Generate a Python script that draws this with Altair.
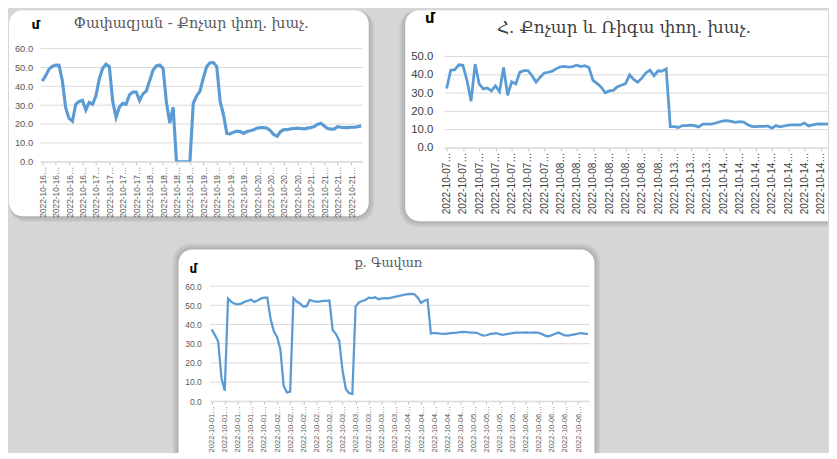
import json
import altair as alt
import pandas as pd

# ---------------- data ----------------
unit = "մ"
titles = ["Փափազյան - Քոչար փող. խաչ.", "Հ. Քոչար և Ռիգա փող. խաչ.", "ք. Գավառ"]

labels1 = (["2022-10-16…"] * 4 + ["2022-10-17…"] * 4 + ["2022-10-18…"] * 4 +
           ["2022-10-19…"] * 4 + ["2022-10-20…"] * 4 + ["2022-10-21…"] * 4)
labels2 = (["2022-10-07…"] * 7 + ["2022-10-08…"] * 7 + ["2022-10-13…"] * 3 +
           ["2022-10-14…"] * 7)
labels3 = (["2022-10-01…"] * 5 + ["2022-10-02…"] * 5 + ["2022-10-03…"] * 5 +
           ["2022-10-04…"] * 5 + ["2022-10-05…"] * 4 + ["2022-10-06…"] * 5)

yticks1 = [0, 10, 20, 30, 40, 50, 60]
yticks2 = [0, 10, 20, 30, 40, 50]
yticks3 = [0, 10, 20, 30, 40, 50, 60]

values1 = [42.8, 45.5, 49.0, 50.6, 51.3, 51.2, 43.0, 28.5, 23.0, 21.5, 30.5, 32.0,
           32.5, 27.5, 31.5, 30.5, 35.0, 44.0, 49.5, 51.8, 50.5, 32.0, 23.5, 29.0,
           31.0, 30.5, 35.5, 37.0, 37.0, 32.5, 36.0, 37.5, 43.0, 48.5, 50.8, 51.3,
           49.5, 31.5, 20.5, 29.0, 0.0, 0.0, 0.0, 0.0, 0.0, 31.0, 35.0, 37.5,
           44.5, 50.5, 52.5, 52.6, 50.5, 32.0, 25.0, 15.0, 14.8, 15.7, 16.2, 16.0,
           15.0, 16.0, 16.4, 17.0, 17.8, 18.1, 18.1, 17.8, 16.4, 14.3, 13.5, 16.0,
           17.0, 17.0, 17.4, 17.6, 17.8, 17.6, 17.4, 17.8, 18.1, 18.6, 19.8, 20.4,
           19.0, 17.6, 17.3, 17.4, 18.6, 18.3, 18.1, 18.1, 18.3, 18.3, 18.6, 19.0]

values2 = [32.5, 42.5, 42.8, 45.5, 45.2, 37.0, 25.5, 45.9, 35.0, 32.3, 32.8, 31.2,
           34.0, 30.8, 44.0, 28.8, 36.2, 35.0, 41.5, 42.3, 42.3, 39.5, 36.0, 38.7,
           41.0, 41.4, 42.0, 43.4, 44.4, 44.6, 44.2, 44.5, 45.3, 44.5, 45.0, 44.0,
           37.0, 35.3, 33.3, 30.2, 31.2, 31.5, 33.5, 34.3, 35.2, 40.0, 37.5, 36.0,
           38.2, 41.0, 42.6, 39.5, 42.2, 42.0, 43.3, 11.7, 11.7, 11.2, 12.2, 12.2,
           12.5, 12.2, 11.5, 13.0, 13.0, 13.0, 13.5, 14.2, 14.8, 14.9, 14.5, 14.0,
           14.4, 14.1, 12.8, 11.8, 11.7, 11.8, 11.8, 12.0, 10.8, 12.2, 11.5, 12.0,
           12.5, 12.6, 12.6, 12.6, 13.6, 12.0, 12.6, 13.0, 13.2, 13.0, 13.1, 13.0]

values3 = [37.5, 34.5, 31.0, 12.0, 5.5, 53.5, 51.8, 50.9, 50.5, 50.9, 51.8, 52.3,
           53.0, 51.8, 52.5, 53.5, 54.0, 54.0, 43.0, 36.5, 33.5, 27.0, 8.0, 4.6,
           5.0, 53.8, 52.0, 51.0, 49.4, 49.5, 52.8, 52.2, 52.0, 51.9, 52.3, 52.3,
           52.5, 37.0, 35.0, 31.5, 16.0, 6.5, 4.2, 3.8, 49.5, 51.5, 52.3, 52.8,
           54.0, 53.8, 54.2, 53.2, 53.6, 53.8, 53.6, 54.0, 54.4, 54.8, 55.2, 55.6,
           55.8, 56.0, 55.8, 54.0, 51.3, 52.4, 53.0, 35.3, 35.6, 35.4, 35.2, 35.1,
           35.3, 35.5, 35.7, 35.8, 36.0, 36.2, 36.0, 35.8, 35.8, 35.7, 34.9, 34.2,
           34.4, 35.0, 35.3, 35.5, 35.0, 34.6, 35.0, 35.2, 35.5, 35.8, 35.8, 35.8,
           35.9, 35.8, 35.8, 35.9, 35.7, 35.0, 34.1, 33.9, 34.5, 35.2, 35.8, 35.1,
           34.3, 34.2, 34.6, 34.9, 35.2, 35.5, 35.2, 35.0]

BG = "#d6d6d6"
LINE = "#5B9BD5"
GRID = "#d9d9d9"
NSH = 4


def panel(values, labels, yticks, ytop, title, step, width, height, xmax, card, shadow,
          corners, lab, ttl, unit_pos):
    df = pd.DataFrame({"i": list(range(len(values))), "v": values})
    gdf = pd.DataFrame({"v": yticks})
    one = pd.DataFrame({"t": [title]})
    uni = pd.DataFrame({"t": [unit]})
    xscale = alt.Scale(domain=[-0.5, xmax], nice=False, zero=False)
    yscale = alt.Scale(domain=[0, ytop], nice=False, zero=True)
    yaxis = alt.Axis(values=yticks, format=".1f", domain=False, grid=False,
                     ticks=False, labelColor=lab["color"],
                     labelFont="Liberation Sans", labelFontSize=lab["ysize"],
                     labelPadding=lab["ypad"], title=None, zindex=1)
    layers = []
    x0, x1, y0, y1 = card
    eL, eT, eR, eB = shadow
    for k in range(NSH, 0, -1):
        f = k / float(NSH)
        layers.append(alt.Chart(one).mark_rect(
            color="#000000", opacity=0.045, **{kk: vv + 4 * f for kk, vv in corners.items()}
        ).encode(x=alt.value(x0 - eL * f), x2=alt.value(x1 + eR * f),
                 y=alt.value(y0 - eT * f), y2=alt.value(y1 + eB * f)))
    layers.append(alt.Chart(one).mark_rect(color="white", **corners).encode(
        x=alt.value(x0), x2=alt.value(x1), y=alt.value(y0), y2=alt.value(y1)))

    # horizontal gridlines from the value scale
    layers.append(alt.Chart(gdf).mark_rule(color=GRID, strokeWidth=1).encode(
        y=alt.Y("v:Q", scale=yscale, axis=yaxis),
        x=alt.value(0), x2=alt.value(width)))

    expr = "%s[round(datum.value/%d)]" % (json.dumps(labels, ensure_ascii=False), step)
    xaxis = alt.Axis(values=list(range(0, len(labels) * step, step)), labelExpr=expr,
                     labelAngle=-90, grid=False, domainColor=GRID, tickColor="#bfbfbf",
                     tickSize=3, labelColor=lab["color"], labelFont="Liberation Sans",
                     labelFontSize=lab["xsize"], labelPadding=lab["xpad"], title=None,
                     labelOverlap=False, labelFlush=False, labelBound=False, zindex=1)
    layers.append(alt.Chart(df).mark_line(color=LINE, strokeWidth=lab["sw"], clip=True).encode(
        x=alt.X("i:Q", scale=xscale, axis=xaxis),
        y=alt.Y("v:Q", scale=yscale, axis=yaxis)))
    layers.append(alt.Chart(one).mark_text(
        font="DejaVu Serif", fontSize=ttl["size"], color=ttl["color"], align="center",
        baseline="middle").encode(x=alt.value(ttl["x"]), y=alt.value(ttl["y"]), text="t:N"))
    layers.append(alt.Chart(uni).mark_text(
        font="DejaVu Sans", fontSize=unit_pos[2], fontWeight="bold", color="#000000",
        align="center", baseline="middle").encode(
        x=alt.value(unit_pos[0]), y=alt.value(unit_pos[1]), text="t:N"))
    return alt.layer(*layers).properties(width=width, height=height)


c1 = panel(values1, labels1, yticks1, 60, titles[0], 4, 327, 114.7, 95.5,
           card=(-32, 333, -39, 170), shadow=(0, 0, 6, 6),
           corners={"cornerRadius": 14},
           lab={"color": "#595959", "xsize": 8.5, "ysize": 9.5, "xpad": 1.5, "ypad": 8, "sw": 3.2},
           ttl={"size": 14.5, "color": "#595959", "x": 153, "y": -25},
           unit_pos=(-5, -24, 13))

# panel 2: plot box starts at the same height as panel 1; value scale top sits above 50
c2 = panel(values2, labels2, yticks2, 54.32, titles[1], 4, 389, 100.7, 93.8,
           card=(-40, 389, -39, 175), shadow=(6, 0, 0, 6),
           corners={"cornerRadiusTopLeft": 14, "cornerRadiusBottomLeft": 14},
           lab={"color": "#404040", "xsize": 10.3, "ysize": 11.5, "xpad": 1, "ypad": 12, "sw": 2.8},
           ttl={"size": 17, "color": "#404040", "x": 182, "y": -21},
           unit_pos=(-15, -31, 15))

c3 = panel(values3, labels3, yticks3, 60, titles[2], 4, 385, 116.7, 115.5,
           card=(-32, 390, -37.3, 171.7), shadow=(6, 6, 6, 0),
           corners={"cornerRadiusTopLeft": 14, "cornerRadiusTopRight": 14},
           lab={"color": "#595959", "xsize": 7.7, "ysize": 8.6, "xpad": 1.5, "ypad": 9, "sw": 2.3},
           ttl={"size": 13, "color": "#595959", "x": 181, "y": -23},
           unit_pos=(-17, -17, 12))

blank = alt.Chart(pd.DataFrame({"t": [""]})).mark_rect(color=BG).encode(
    x=alt.value(0), x2=alt.value(100), y=alt.value(0), y2=alt.value(10)
).properties(width=100, height=10)

row1 = alt.hconcat(c1, c2, spacing=23)
row2 = alt.hconcat(blank, c3, spacing=32)
chart = alt.vconcat(row1, row2, spacing=15).properties(
    background=BG, padding={"left": 0, "top": -2, "right": 0, "bottom": -7}
).configure_view(stroke="transparent")

chart.save("out.html", embed_options={"renderer": "svg", "actions": False})
